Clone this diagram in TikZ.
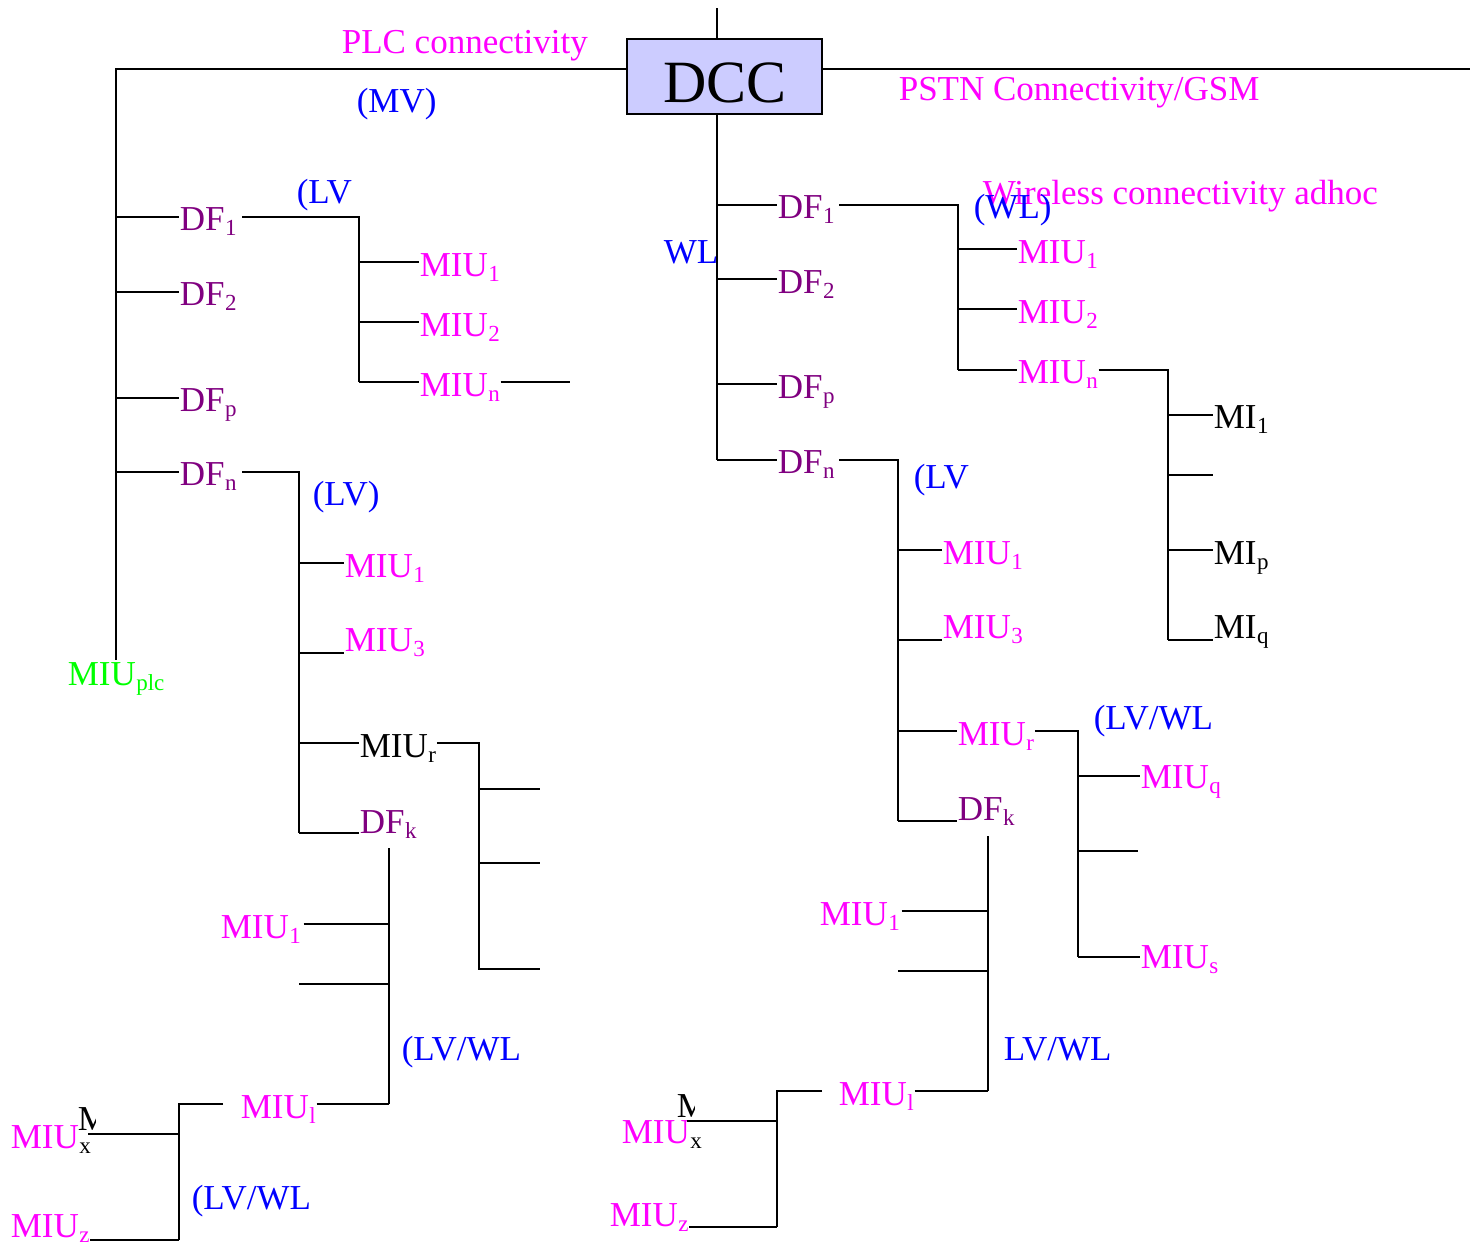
\documentclass[tikz,border=0pt]{standalone}
\usepackage{fontspec}
\setmainfont{Liberation Serif}
\definecolor{mag}{RGB}{255,0,255}
\definecolor{blu}{RGB}{0,0,255}
\definecolor{pur}{RGB}{128,0,128}
\definecolor{grn}{RGB}{0,255,0}
\definecolor{boxfill}{RGB}{204,204,255}
\newcommand\sbs[1]{\kern0.5pt\raisebox{-5pt}{\fontsize{23}{23}\selectfont #1}}
\begin{document}
\begin{tikzpicture}[x=1pt,y=-1pt,line width=1.6pt,
  lbl/.style={anchor=base west,inner sep=0pt,font=\fontsize{35}{40}\selectfont},
  dccbox/.style={draw,fill=boxfill,minimum width=195pt,minimum height=75pt,inner sep=0pt}]
\useasboundingbox (0,0) rectangle (1479,1243);

% ---- DCC and top level
\node[dccbox] (dcc) at (724.5,76.5) {};
\node[anchor=base,inner sep=0pt,font=\fontsize{60}{60}\selectfont] (dcctxt) at (725,102) {DCC};
\coordinate (top) at (717,8);
\draw (top) -- (top |- dcc.north);
\coordinate (plc) at (116,69);
\coordinate (plcend) at (116,660);
\draw (dcc.west |- plc) -- (plc) -- (plcend);
\coordinate (pstn) at (1470,69);
\draw (dcc.east |- pstn) -- (pstn);
\coordinate (wlend) at (717,460);
\draw (dcc.south -| wlend) -- (wlend);

\node[lbl,mag] (plctxt) at (341,53) {PLC connectivity};
\node[lbl,blu] (mv) at (356,112) {(MV)};
\node[lbl,mag] (pstntxt) at (898,100) {PSTN Connectivity/GSM};
\node[lbl,grn] (plcmiu) at (67,685) {MIU\sbs{plc}};

% ---- left DFs
\coordinate (Lj1) at (116,217); \node[lbl,pur] (dfL1) at (179,230) {DF\sbs{1}};
\coordinate (Lj2) at (116,292); \node[lbl,pur] (dfL2) at (179,305) {DF\sbs{2}};
\coordinate (Ljp) at (116,398); \node[lbl,pur] (dfLp) at (179,411) {DF\sbs{p}};
\coordinate (Ljn) at (116,472); \node[lbl,pur] (dfLn) at (179,485) {DF\sbs{n}};
\foreach \j/\n in {Lj1/dfL1,Lj2/dfL2,Ljp/dfLp,Ljn/dfLn}
  \draw (\j) -- (\j -| \n.west);

% tree A (left DF1)
\coordinate (A0) at (359,217); \coordinate (A1) at (359,262);
\coordinate (A2) at (359,322); \coordinate (A3) at (359,382);
\draw ([xshift=5pt]dfL1.east |- A0) -- (A0) -- (A3);
\node[lbl,blu] (lvA) at (296,203) {(LV};
\node[lbl,mag] (miuA1) at (419,276) {MIU\sbs{1}};
\node[lbl,mag] (miuA2) at (419,336) {MIU\sbs{2}};
\node[lbl,mag] (miuAn) at (419,396) {MIU\sbs{n}};
\foreach \j/\n in {A1/miuA1,A2/miuA2,A3/miuAn}
  \draw (\j) -- (\j -| \n.west);
\coordinate (Aend) at (570,382);
\draw (miuAn.east |- A3) -- (Aend);

% tree B (left DFn)
\coordinate (B0) at (299,472); \coordinate (B1) at (299,563);
\coordinate (B3) at (299,653); \coordinate (Br) at (299,743);
\coordinate (Bk) at (299,833);
\draw ([xshift=5pt]dfLn.east |- B0) -- (B0) -- (Bk);
\node[lbl,blu] (lvB) at (312,505) {(LV)};
\node[lbl,mag] (miuB1) at (344,577) {MIU\sbs{1}};
\node[lbl,mag] (miuB3) at (344,651) {MIU\sbs{3}};
\node[lbl] (miuBr) at (359,757) {MIU\sbs{r}};
\node[lbl,pur] (dfBk) at (359,833) {DF\sbs{k}};
\foreach \j/\n in {B1/miuB1,B3/miuB3,Br/miuBr,Bk/dfBk}
  \draw (\j) -- (\j -| \n.west);

% tree from MIUr (left)
\coordinate (R0) at (479,743); \coordinate (R1) at (479,789);
\coordinate (R2) at (479,863); \coordinate (R3) at (479,969);
\coordinate (R1e) at (540,789); \coordinate (R2e) at (540,863); \coordinate (R3e) at (540,969);
\draw (miuBr.east |- R0) -- (R0) -- (R3) -- (R3e);
\draw (R1) -- (R1e);
\draw (R2) -- (R2e);

% tree K (left DFk)
\coordinate (K0) at (389,848); \coordinate (K1) at (389,924);
\coordinate (K2) at (389,984); \coordinate (K3) at (389,1104);
\draw (K0) -- (K3);
\node[lbl,mag] (miuC1) at (220,938) {MIU\sbs{1}};
\draw ([xshift=2pt]miuC1.east |- K1) -- (K1);
\coordinate (K2e) at (299,984);
\draw (K2e) -- (K2);
\node[lbl,blu] (lvwlC) at (401,1060) {(LV/WL};
\node[lbl,mag] (miuCl) at (240,1118) {MIU\sbs{l}};
\draw (miuCl.east |- K3) -- (K3);
\coordinate (X0e) at (223,1104); \coordinate (X0) at (179,1104);
\coordinate (X1) at (179,1134); \coordinate (X2) at (179,1240);
\draw (X0e) -- (X0) -- (X2);
\node[lbl,mag] (miuCx) at (10,1148) {MIU\sbs{\color{black}x}};
\begin{scope}
  \clip (70,1090) rectangle (95,1160);
  \node[lbl] (mclipL) at (77,1130) {M};
\end{scope}
\coordinate (X1e) at (88,1134);
\draw (X1e) -- (X1);
\node[lbl,mag] (miuCz) at (10,1237) {MIU\sbs{z}};
\draw (miuCz.east |- X2) -- (X2);
\node[lbl,blu] (lvwlX) at (191,1209) {(LV/WL};

% ---- right side
\node[lbl,blu] (wl) at (663,263) {WL};
\coordinate (Rj1) at (717,205); \node[lbl,pur] (dfR1) at (777,218) {DF\sbs{1}};
\coordinate (Rj2) at (717,279); \node[lbl,pur] (dfR2) at (777,293) {DF\sbs{2}};
\coordinate (Rjp) at (717,384); \node[lbl,pur] (dfRp) at (777,398) {DF\sbs{p}};
\node[lbl,pur] (dfRn) at (777,473) {DF\sbs{n}};
\foreach \j/\n in {Rj1/dfR1,Rj2/dfR2,Rjp/dfRp,wlend/dfRn}
  \draw (\j) -- (\j -| \n.west);

% tree D (right DF1)
\coordinate (D0) at (958,205); \coordinate (D1) at (958,249);
\coordinate (D2) at (958,309); \coordinate (D3) at (958,370);
\draw ([xshift=4pt]dfR1.east |- D0) -- (D0) -- (D3);
\node[lbl,mag] (wireless) at (982,204) {Wireless connectivity adhoc};
\node[lbl,blu] (wlD) at (973,218) {(WL)};
\node[lbl,mag] (miuD1) at (1017,263) {MIU\sbs{1}};
\node[lbl,mag] (miuD2) at (1017,323) {MIU\sbs{2}};
\node[lbl,mag] (miuDn) at (1017,383) {MIU\sbs{n}};
\foreach \j/\n in {D1/miuD1,D2/miuD2,D3/miuDn}
  \draw (\j) -- (\j -| \n.west);

% tree M (from MIUn right)
\coordinate (M0) at (1168,370); \coordinate (M1) at (1168,415);
\coordinate (M2) at (1168,475); \coordinate (M3) at (1168,550);
\coordinate (M4) at (1168,640);
\draw (miuDn.east |- M0) -- (M0) -- (M4);
\node[lbl] (mi1) at (1213,428) {MI\sbs{1}};
\node[lbl] (mip) at (1213,564) {MI\sbs{p}};
\node[lbl] (miq) at (1213,638) {MI\sbs{q}};
\foreach \j/\n in {M1/mi1,M3/mip,M4/miq}
  \draw (\j) -- (\j -| \n.west);
\coordinate (M2e) at (1213,475);
\draw (M2) -- (M2e);

% tree E (right DFn)
\coordinate (E0) at (898,460); \coordinate (E1) at (898,550);
\coordinate (E3) at (898,640); \coordinate (Er) at (898,731);
\coordinate (Ek) at (898,821);
\draw ([xshift=4pt]dfRn.east |- E0) -- (E0) -- (Ek);
\node[lbl,blu] (lvE) at (913,488) {(LV};
\node[lbl,mag] (miuE1) at (942,564) {MIU\sbs{1}};
\node[lbl,mag] (miuE3) at (942,638) {MIU\sbs{3}};
\node[lbl,mag] (miuEr) at (957,745) {MIU\sbs{r}};
\node[lbl,pur] (dfEk) at (957,820) {DF\sbs{k}};
\foreach \j/\n in {E1/miuE1,E3/miuE3,Er/miuEr,Ek/dfEk}
  \draw (\j) -- (\j -| \n.west);

% tree Q (from MIUr right)
\coordinate (Q0) at (1078,731); \coordinate (Q1) at (1078,776);
\coordinate (Q2) at (1078,851); \coordinate (Q3) at (1078,957);
\draw (miuEr.east |- Q0) -- (Q0) -- (Q3);
\node[lbl,blu] (lvwlQ) at (1093,729) {(LV/WL};
\node[lbl,mag] (miuEq) at (1140,788) {MIU\sbs{q}};
\node[lbl,mag] (miuEs) at (1140,968) {MIU\sbs{s}};
\foreach \j/\n in {Q1/miuEq,Q3/miuEs}
  \draw (\j) -- (\j -| \n.west);
\coordinate (Q2e) at (1138,851);
\draw (Q2) -- (Q2e);

% tree F (right DFk)
\coordinate (F0) at (988,836); \coordinate (F1) at (988,911);
\coordinate (F2) at (988,971); \coordinate (F3) at (988,1091);
\draw (F0) -- (F3);
\node[lbl,mag] (miuF1) at (819,925) {MIU\sbs{1}};
\draw ([xshift=1pt]miuF1.east |- F1) -- (F1);
\coordinate (F2e) at (898,971);
\draw (F2e) -- (F2);
\node[lbl,blu] (lvwlF) at (1003,1060) {LV/WL};
\node[lbl,mag] (miuFl) at (838,1105) {MIU\sbs{l}};
\draw (miuFl.east |- F3) -- (F3);
\coordinate (Y0e) at (822,1091); \coordinate (Y0) at (777,1091);
\coordinate (Y1) at (777,1121); \coordinate (Y2) at (777,1227);
\draw (Y0e) -- (Y0) -- (Y2);
\node[lbl,mag] (miuFx) at (621,1143) {MIU\sbs{\color{black}x}};
\begin{scope}
  \clip (670,1080) rectangle (694,1160);
  \node[lbl] (mclipR) at (676,1117) {M};
\end{scope}
\coordinate (Y1e) at (687,1121);
\draw (Y1e) -- (Y1);
\node[lbl,mag] (miuFz) at (609,1226) {MIU\sbs{z}};
\draw (miuFz.east |- Y2) -- (Y2);
\end{tikzpicture}
\end{document}
